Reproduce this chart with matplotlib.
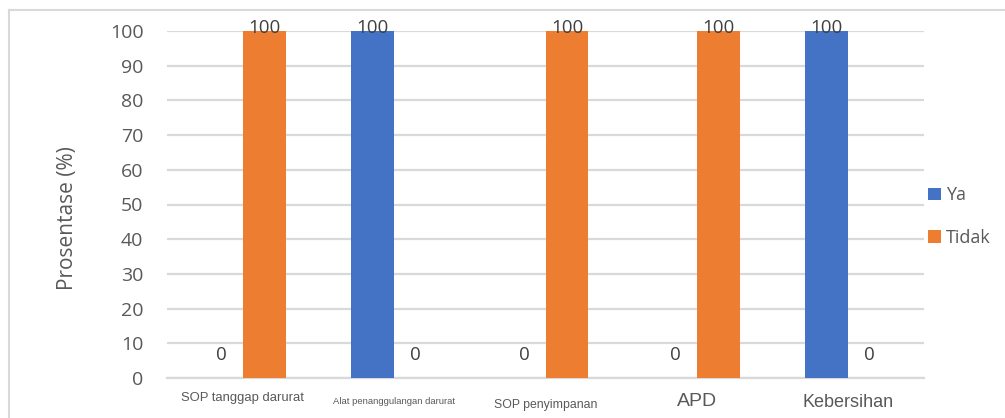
import numpy as np
import matplotlib
matplotlib.use("Agg")
import matplotlib.pyplot as plt
from matplotlib.lines import Line2D

# Data
kategori = ["SOP tanggap darurat", "Alat penanggulangan darurat",
            "SOP penyimpanan", "APD", "Kebersihan"]
ya = [0, 100, 0, 0, 100]
tidak = [100, 0, 100, 100, 0]
yticks = [0, 10, 20, 30, 40, 50, 60, 70, 80, 90, 100]

# each category label has its own size, as in the source sheet
label_style = [
    dict(size=9.4, y=-0.058),
    dict(size=6.8, y=-0.068),
    dict(size=8.8, y=-0.078),
    dict(size=14, y=-0.068),
    dict(size=13, y=-0.072),
]

BIRU = "#4472C4"
ORANYE = "#ED7D31"
TEKS = "#595959"
GRID = "#D9D9D9"

plt.rcParams["font.family"] = ["Open Sans", "DejaVu Sans"]

fig = plt.figure(figsize=(10.05, 4.18), dpi=100)
ax = fig.add_axes([167 / 1005, 1 - 378 / 418, (924 - 167) / 1005, (378 - 31) / 418])

x = np.arange(len(kategori))
w = 0.284
b1 = ax.bar(x - w / 2, ya, w, color=BIRU, label="Ya", zorder=3)
b2 = ax.bar(x + w / 2, tidak, w, color=ORANYE, label="Tidak", zorder=3)

# value labels
for bars, vals in [(b1, ya), (b2, tidak)]:
    for rect, v in zip(bars, vals):
        ty = v + 1.0 if v >= 90 else v + 6.6
        ax.text(rect.get_x() + rect.get_width() / 2, ty, str(v),
                ha="center", va="center", fontsize=13.5, color="#404040", zorder=4)

ax.set_xlim(-0.5, len(kategori) - 0.5)
ax.set_ylim(0, 100)
ax.set_yticks(yticks)
ax.set_yticklabels([str(t) for t in yticks])
ax.yaxis.grid(True, color=GRID, linewidth=1.6, zorder=0)
ax.set_axisbelow(True)
for s in ["top", "right", "left", "bottom"]:
    ax.spines[s].set_visible(False)
ax.tick_params(axis="y", length=0, pad=17, labelsize=14, labelcolor=TEKS)
ax.tick_params(axis="x", length=0)
ax.set_xticks(x)
ax.set_xticklabels([])
ax.axhline(0, color=GRID, linewidth=1.6, zorder=2, clip_on=False)

for i, (k, st) in enumerate(zip(kategori, label_style)):
    ax.text(i, st["y"], k, transform=ax.get_xaxis_transform(), ha="center", va="center",
            fontsize=st["size"], family=["Liberation Sans", "DejaVu Sans"], color=TEKS)

ax.set_ylabel("Prosentase (%)", fontsize=15, color=TEKS)
ax.yaxis.set_label_coords(-0.118, 0.46)

ax.legend(loc="center left", bbox_to_anchor=(0.984, 0.465), frameon=False,
          fontsize=13, labelcolor=TEKS, handlelength=0.7, handleheight=0.7,
          handletextpad=0.3, labelspacing=1.35)

# chart area border (top and left edges only)
fig.add_artist(Line2D([9 / 1005, 9 / 1005], [0, 1 - 10 / 418], color=GRID, linewidth=1.5))
fig.add_artist(Line2D([9 / 1005, 1], [1 - 10 / 418, 1 - 10 / 418], color=GRID, linewidth=1.5))

fig.savefig("out.png", dpi=100, facecolor="white")
